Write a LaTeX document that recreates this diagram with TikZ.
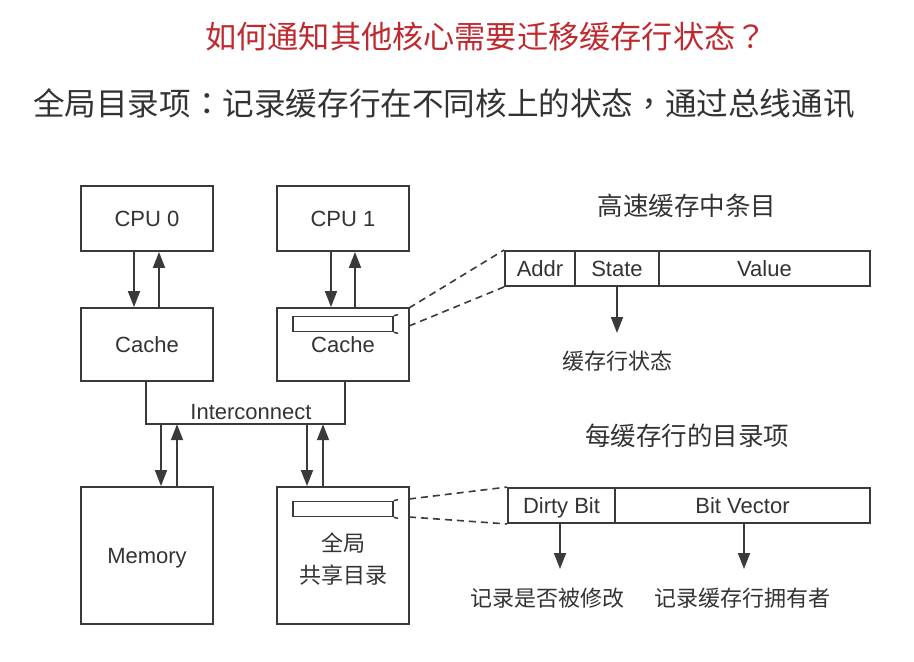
\documentclass[tikz,border=0pt]{standalone}
\usepackage{fontspec}
\setmainfont{Liberation Sans}
\newfontfamily\cjk{Noto Sans CJK SC}
\newfontfamily\cjkpunct{Noto Sans CJK TC}
\usetikzlibrary{arrows.meta,calc}
\definecolor{ink}{HTML}{3A3A3A}
\definecolor{txt}{HTML}{333333}
\definecolor{titlered}{HTML}{BF2A30}
\begin{document}
\begin{tikzpicture}[x=1pt,y=-1pt,
  unit/.style={draw=ink,line width=1.9pt,fill=white,minimum width=132pt,inner sep=0pt,
    text=txt,font=\fontsize{22}{24}\selectfont,text height=18pt,text depth=2pt},
  cell/.style={draw=ink,line width=1.9pt,minimum height=35pt,inner sep=0pt,
    text=txt,font=\fontsize{22}{24}\selectfont,text height=18pt,text depth=2pt},
  slot/.style={draw=ink,line width=1.7pt,minimum width=100pt,minimum height=15pt,inner sep=0pt},
  arr/.style={draw=ink,line width=1.8pt,-{Triangle[width=12pt,length=16pt]}},
  zoomline/.style={draw=ink,line width=1.6pt,dash pattern=on 7pt off 5pt},
  cjklabel/.style={text=txt,font=\cjk\fontsize{22}{24}\selectfont,inner sep=0pt},
  cjkhead/.style={text=txt,font=\cjk\fontsize{25.5}{28}\selectfont,inner sep=0pt}]
\useasboundingbox (0,0) rectangle (914,662);

% headings
\node[text=titlered,font=\cjk\fontsize{31.2}{33}\selectfont,inner sep=0pt] (title) at (486,37) {如何通知其他核心需要迁移缓存行状态{\cjkpunct ？}};
\node[text=txt,font=\cjk\fontsize{31.6}{34}\selectfont,inner sep=0pt] (subtitle) at (444,104) {全局目录项{\cjkpunct ：}记录缓存行在不同核上的状态{\cjkpunct ，}通过总线通讯};

% interconnect (its top edge sits under the caches)
\node[minimum width=199pt,minimum height=43pt,inner sep=0pt] (ic) at (245.5,402.5) {};
\draw[draw=ink,line width=1.9pt] (ic.north west) -- (ic.south west) -- (ic.south east) -- (ic.north east);
\node[text=txt,font=\fontsize{22}{24}\selectfont,inner sep=0pt] (iclbl) at (251,412) {Interconnect};

% processors, caches, memory and directory
\node[unit,minimum height=65pt] (cpu0) at (147,218.5) {CPU 0};
\node[unit,minimum height=65pt] (cpu1) at (343,218.5) {CPU 1};
\node[unit,minimum height=73pt] (cache0) at (147,344.5) {Cache};
\node[unit,minimum height=73pt] (cache1) at (343,344.5) {};
\node[text=txt,font=\fontsize{22}{24}\selectfont,inner sep=0pt] (cache1lbl) at (343,345) {Cache};
\node[unit,minimum height=137pt] (mem) at (147,555.5) {Memory};
\node[unit,minimum height=137pt] (dir) at (343,555.5) {};
\node[cjklabel,align=center] (dirlbl) at (343,559) {全局\\[8pt]共享目录};

% cache line slot and directory entry slot
\node[slot] (slot1) at (343,324) {};
\draw[ink,line width=1.5pt] (slot1.north east) -- ++(4,-1) (slot1.south east) -- ++(4,1);
\node[slot] (slot2) at (343,509) {};
\draw[ink,line width=1.5pt] (slot2.north east) -- ++(4,-1) (slot2.south east) -- ++(4,1);

% CPU <-> cache
\draw[arr] ($(cpu0.south)+(-13,0)$) -- ($(cache0.north)+(-13,0)$);
\draw[arr] ($(cache0.north)+(12,0)$) -- ($(cpu0.south)+(12,0)$);
\draw[arr] ($(cpu1.south)+(-12,0)$) -- ($(cache1.north)+(-12,0)$);
\draw[arr] ($(cache1.north)+(12,0)$) -- ($(cpu1.south)+(12,0)$);

% interconnect <-> memory / directory
\coordinate (m1) at ($(mem.north)+(14,0)$);
\coordinate (m2) at ($(mem.north)+(30,0)$);
\coordinate (d1) at ($(dir.north)+(-36,0)$);
\coordinate (d2) at ($(dir.north)+(-20,0)$);
\draw[arr] (m1 |- ic.south) -- (m1);
\draw[arr] (m2) -- (m2 |- ic.south);
\draw[arr] (d1 |- ic.south) -- (d1);
\draw[arr] (d2) -- (d2 |- ic.south);

% cache entry layout
\node[cjkhead] (head1) at (687,206) {高速缓存中条目};
\node[cell,minimum width=70pt] (addr) at (540,268.5) {Addr};
\node[cell,minimum width=84pt] (state) at (617,268.5) {State};
\node[cell,minimum width=211pt] (value) at (764.5,268.5) {Value};
\node[cjklabel] (statelbl) at (617,361) {缓存行状态};
\coordinate (stateTip) at (617,333);
\draw[arr] (state.south) -- (stateTip);

\coordinate (z1a) at (409,308);
\coordinate (z1b) at (409,326);
\draw[zoomline] (z1a) -- (addr.north west);
\draw[zoomline] (z1b) -- (addr.south west);

% directory entry layout
\node[cjkhead] (head2) at (687,436) {每缓存行的目录项};
\node[cell,minimum width=107pt] (dirty) at (561.5,505.5) {Dirty Bit};
\node[cell,minimum width=255pt] (vector) at (742.5,505.5) {Bit Vector};
\node[cjklabel] (dirtylbl) at (547,598) {记录是否被修改};
\node[cjklabel] (vectorlbl) at (742,598) {记录缓存行拥有者};
\coordinate (dirtyTip) at (560,569);
\coordinate (vectorTip) at (744,569);
\draw[arr] (dirty.south -| dirtyTip) -- (dirtyTip);
\draw[arr] (vector.south -| vectorTip) -- (vectorTip);

\coordinate (z2a) at (409,499);
\coordinate (z2b) at (409,517);
\draw[zoomline] (z2a) -- (dirty.north west);
\draw[zoomline] (z2b) -- (dirty.south west);
\end{tikzpicture}
\end{document}
